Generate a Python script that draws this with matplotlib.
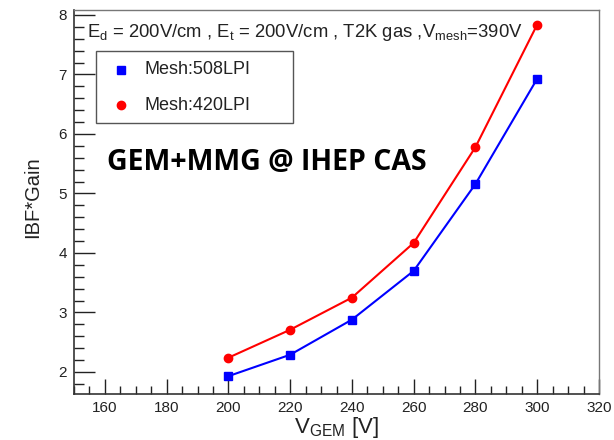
import matplotlib
matplotlib.use("Agg")
import matplotlib.pyplot as plt
from matplotlib.ticker import MultipleLocator
from matplotlib.patches import Rectangle
from matplotlib.lines import Line2D

plt.rcParams['font.family'] = ['Liberation Sans', 'DejaVu Sans']

v_gem = [200, 220, 240, 260, 280, 300]
ibf_508 = [1.93, 2.29, 2.88, 3.70, 5.16, 6.93]
ibf_420 = [2.24, 2.71, 3.25, 4.17, 5.78, 7.84]
labels = ["Mesh:508LPI", "Mesh:420LPI"]

W, H = 614, 440
fig = plt.figure(figsize=(6.14, 4.4), dpi=100)
L, R, T, B = 74, 599, 10, 394
ax = fig.add_axes([L/W, 1-B/H, (R-L)/W, (B-T)/H])

def fx(px):
    return px / W

def fy(py):
    return 1 - py / H

ax.plot(v_gem, ibf_508, color='#0000ff', lw=1.5, marker='s', ms=6)
ax.plot(v_gem, ibf_420, color='#ff0000', lw=1.5, marker='o', ms=6)

ax.set_xlim(150, 320)
ax.set_ylim(1.63, 8.084)
ax.xaxis.set_major_locator(MultipleLocator(20))
ax.xaxis.set_minor_locator(MultipleLocator(5))
ax.yaxis.set_major_locator(MultipleLocator(1))
ax.yaxis.set_minor_locator(MultipleLocator(0.2))
ax.tick_params(which='both', direction='in', width=1.0, labelsize=11, top=False, right=False,
               color='#222222', labelcolor='#222222')
ax.tick_params(axis='x', which='major', length=11, pad=5)
ax.tick_params(axis='x', which='minor', length=6)
ax.tick_params(axis='y', which='major', length=15, pad=5)
ax.tick_params(axis='y', which='minor', length=7)
for s in ['top', 'right']:
    ax.spines[s].set_color('#777777')
    ax.spines[s].set_linewidth(1.0)
for s in ['left', 'bottom']:
    ax.spines[s].set_color('#333333')
    ax.spines[s].set_linewidth(1.2)

fig.text(fx(336), fy(433), r"V$_{\mathregular{GEM}}$ [V]", fontsize=16,
         ha='center', va='baseline', color='#222222')
fig.text(fx(33), fy(197), "IBF*Gain", fontsize=14.5, rotation=90,
         ha='center', va='center', color='#222222')

fig.text(fx(87), fy(37),
         r"E$_{\mathregular{d}}$ = 200V/cm , E$_{\mathregular{t}}$ = 200V/cm , T2K gas ,V$_{\mathregular{mesh}}$=390V",
         fontsize=13.3, va='baseline', ha='left', color='#222222')

# legend box
ax.add_patch(Rectangle((fx(96), fy(123)), fx(293) - fx(96), fy(51) - fy(123),
                       transform=fig.transFigure, fill=True, facecolor='white',
                       edgecolor='#555555', lw=1.0, zorder=3))
rows = [70, 105]
styles = [('#0000ff', 's'), ('#ff0000', 'o')]
for lab, (col, mk), ry in zip(labels, styles, rows):
    ax.add_line(Line2D([fx(121)], [fy(ry)], transform=fig.transFigure, color=col,
                       marker=mk, ms=6, ls='none', zorder=4))
    fig.text(fx(145), fy(ry), lab, fontsize=13, va='center', ha='left',
             color='#222222', zorder=4)

fig.text(fx(107), fy(162), "GEM+MMG @ IHEP CAS", fontsize=20.5, fontweight='bold',
         family=['Open Sans', 'DejaVu Sans'], va='center', ha='left')

fig.savefig("out.png", dpi=100)
